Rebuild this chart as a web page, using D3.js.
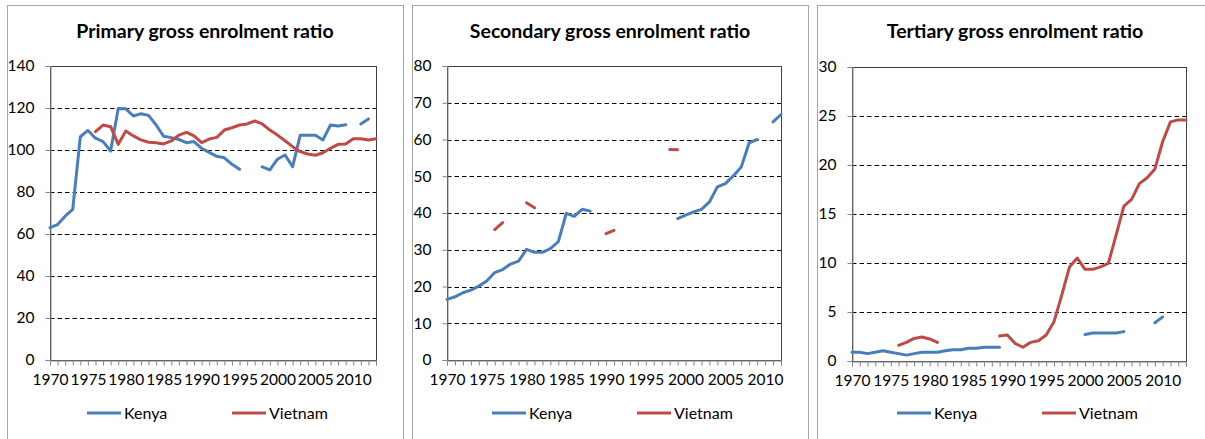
<!DOCTYPE html>
<html>
<head>
<meta charset="utf-8">
<script src="https://cdn.jsdelivr.net/npm/d3@7"></script>
<style>
  body { margin: 0; background: #fff; }
  text { font-family: Lato, "Open Sans", sans-serif; }
</style>
</head>
<body>
<div id="chart-area"></div>
<script>
// years on the category axes
var primaryYears = d3.range(1970, 2014);
var secondaryYears = d3.range(1970, 2013);
var tertiaryYears = d3.range(1970, 2014);

// Primary gross enrolment ratio
var kenyaPrimary = [63.0, 64.5, 68.5, 71.7, 106.3, 109.3, 105.6, 104.0, 99.5, 119.8,
  119.6, 116.2, 117.3, 116.5, 111.9, 106.5, 105.9, 105.0, 103.5, 104.0,
  100.8, 98.9, 97.0, 96.3, 93.2, 90.8, null, null, 92.0, 90.5,
  95.6, 97.6, 92.0, 107.0, 107.0, 107.0, 104.8, 111.9, 111.4, 112.0,
  null, 112.4, 114.8, null];
var vietnamPrimary = [null, null, null, null, null, null, 108.7, 111.9, 111.1, 102.7,
  109.0, 106.7, 104.8, 103.7, 103.5, 102.9, 104.3, 107.1, 108.4, 106.7,
  103.5, 105.2, 106.0, 109.5, 110.6, 111.9, 112.4, 113.8, 112.4, 109.5,
  107.1, 104.4, 101.6, 99.2, 98.1, 97.5, 98.7, 100.8, 102.7, 102.9,
  105.4, 105.4, 104.8, 105.4];

// Secondary gross enrolment ratio
var kenyaSecondary = [16.5, 17.2, 18.3, 19.0, 20.1, 21.5, 23.8, 24.6, 26.1, 26.9,
  30.1, 29.3, 29.3, 30.3, 32.2, 39.9, 39.1, 41.0, 40.5, null,
  null, null, null, null, null, null, null, null, null, 38.5,
  39.4, 40.3, 41.0, 43.0, 47.1, 48.0, 50.1, 52.5, 59.1, 60.0,
  null, 64.8, 66.8];
var vietnamSecondary = [null, null, null, null, null, null, 35.5, 37.4, null, null,
  42.8, 41.4, null, null, null, null, null, null, null, null,
  34.4, 35.3, null, null, null, null, null, null, 57.3, 57.2,
  null, null, null, null, null, null, null, null, null, null,
  null, null, null];

// Tertiary gross enrolment ratio
var kenyaTertiary = [0.9, 0.9, 0.75, 0.9, 1.05, 0.9, 0.75, 0.6, 0.75, 0.9,
  0.9, 0.9, 1.05, 1.15, 1.15, 1.3, 1.3, 1.4, 1.4, 1.4,
  null, null, null, null, null, null, null, null, null, null,
  2.7, 2.85, 2.85, 2.85, 2.85, 3.0, null, null, null, 3.9,
  4.5, null, null, null];
var vietnamTertiary = [null, null, null, null, null, null, 1.6, 1.9, 2.3, 2.45,
  2.25, 1.9, null, null, null, null, null, null, null, 2.55,
  2.65, 1.8, 1.4, 1.9, 2.07, 2.65, 4.0, 6.7, 9.6, 10.5,
  9.35, 9.35, 9.6, 9.95, 12.85, 15.8, 16.5, 18.1, 18.7, 19.6,
  22.4, 24.4, 24.6, 24.6];

// y tick labels
var primaryTicks = [0, 20, 40, 60, 80, 100, 120, 140];
var secondaryTicks = [0, 10, 20, 30, 40, 50, 60, 70, 80];
var tertiaryTicks = [0, 5, 10, 15, 20, 25, 30];

var seriesNames = ["Kenya", "Vietnam"];
var colors = ["#4a7ebb", "#be4b48"];

var panels = [
  { title: "Primary gross enrolment ratio", years: primaryYears, ticks: primaryTicks,
    series: [kenyaPrimary, vietnamPrimary], x0: 7, left: 43, top: 61, bottom: 355 },
  { title: "Secondary gross enrolment ratio", years: secondaryYears, ticks: secondaryTicks,
    series: [kenyaSecondary, vietnamSecondary], x0: 412, left: 35, top: 61, bottom: 355 },
  { title: "Tertiary gross enrolment ratio", years: tertiaryYears, ticks: tertiaryTicks,
    series: [kenyaTertiary, vietnamTertiary], x0: 817, left: 35, top: 62, bottom: 356 }
];

var svg = d3.select("#chart-area").append("svg")
  .attr("width", 1205)
  .attr("height", 439);

panels.forEach(function(p) {
  var g = svg.append("g")
    .attr("transform", "translate(" + p.x0 + ",5)");

  // panel frame
  g.append("rect")
    .attr("x", 0.5)
    .attr("y", 0.5)
    .attr("width", 396)
    .attr("height", 450)
    .attr("fill", "#fff")
    .attr("stroke", "#a6a6a6");

  // title
  g.append("text")
    .attr("x", 198)
    .attr("y", 33)
    .attr("text-anchor", "middle")
    .attr("font-size", "19.5px")
    .attr("font-weight", "bold")
    .text(p.title);

  var x = d3.scalePoint()
    .domain(p.years)
    .range([p.left, 369]);

  var y = d3.scaleLinear()
    .domain([0, d3.max(p.ticks)])
    .range([p.bottom, p.top]);

  // gridlines
  g.selectAll(".grid")
    .data(p.ticks.slice(1, -1))
    .enter().append("line")
      .attr("x1", p.left)
      .attr("x2", 369)
      .attr("y1", function(d) { return Math.round(y(d)) + 0.5; })
      .attr("y2", function(d) { return Math.round(y(d)) + 0.5; })
      .attr("stroke", "#000")
      .attr("stroke-dasharray", "4.5,3");

  // plot area border
  g.append("rect")
    .attr("x", p.left + 0.5)
    .attr("y", Math.round(p.top) + 0.5)
    .attr("width", 369 - p.left)
    .attr("height", p.bottom - p.top)
    .attr("fill", "none")
    .attr("stroke", "#404040");

  // X Axis
  var xAxisCall = d3.axisBottom(x)
    .tickSize(5)
    .tickPadding(8)
    .tickFormat(function(d) { return d % 5 === 0 ? d : ""; });
  var xAxisGroup = g.append("g")
    .attr("transform", "translate(0," + (p.bottom + 0.5) + ")")
    .call(xAxisCall);

  // Y Axis
  var yAxisCall = d3.axisLeft(y)
    .tickValues(p.ticks)
    .tickSize(5)
    .tickPadding(11);
  var yAxisGroup = g.append("g")
    .attr("transform", "translate(" + (p.left + 0.5) + ",0)")
    .call(yAxisCall);

  [xAxisGroup, yAxisGroup].forEach(function(a) {
    a.select(".domain").attr("stroke", "#868686");
    a.selectAll(".tick line").attr("stroke", "#868686");
    a.selectAll(".tick text")
      .attr("fill", "#000")
      .attr("font-size", "15.5px")
      .attr("font-family", "Lato, sans-serif");
  });

  // series lines
  var line = d3.line()
    .defined(function(d) { return d.v != null; })
    .x(function(d) { return x(d.year); })
    .y(function(d) { return y(d.v); });

  p.series.forEach(function(values, i) {
    var pts = p.years.map(function(yr, j) { return { year: yr, v: values[j] }; });
    g.append("path")
      .datum(pts)
      .attr("fill", "none")
      .attr("stroke", colors[i])
      .attr("stroke-width", 3)
      .attr("stroke-linecap", "round")
      .attr("stroke-linejoin", "round")
      .attr("d", line);
  });

  // legend
  var legend = g.selectAll(".legend")
    .data(seriesNames)
    .enter().append("g")
      .attr("transform", function(d, i) { return "translate(" + (80 + i * 145) + ",408)"; });

  legend.append("line")
    .attr("x1", 0)
    .attr("x2", 34)
    .attr("stroke", function(d, i) { return colors[i]; })
    .attr("stroke-width", 3);

  legend.append("text")
    .attr("x", 37)
    .attr("y", 5.5)
    .attr("font-size", "16px")
    .text(function(d) { return d; });
});
</script>
</body>
</html>
